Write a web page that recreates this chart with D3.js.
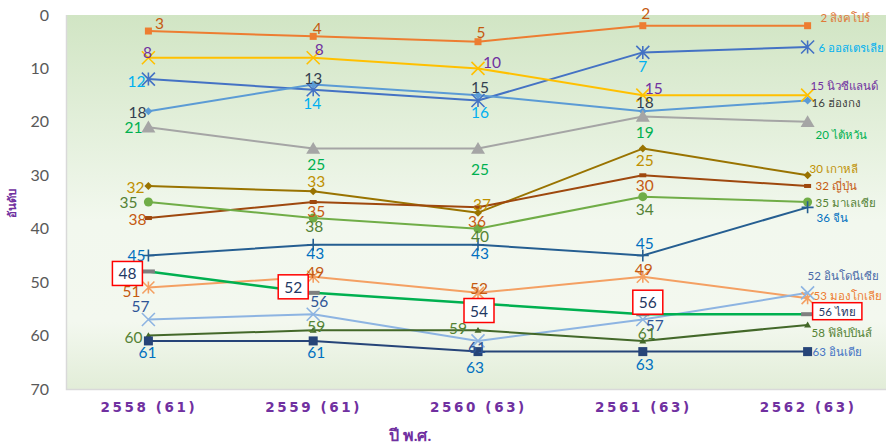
<!DOCTYPE html>
<html>
<head>
<meta charset="utf-8">
<script src="https://cdn.jsdelivr.net/npm/d3@7"></script>
<style>
  html, body { margin: 0; padding: 0; background: #fff; }
  svg { display: block; }
  text { font-family: Lato, "Noto Sans", "DejaVu Sans", sans-serif; }
</style>
</head>
<body>
<svg id="chart" width="886" height="444"></svg>
<script>
// ---- data: ranking per year (year label shows number of economies ranked) ----
const years = ["2558 (61)", "2559 (61)", "2560 (63)", "2561 (63)", "2562 (63)"];
const yTicks = [0, 10, 20, 30, 40, 50, 60, 70];

const singapore   = [3, 4, 5, 2, 2];
const australia   = [12, 14, 16, 7, 6];
const newZealand  = [8, 8, 10, 15, 15];
const hongKong    = [18, 13, 15, 18, 16];
const taiwan      = [21, 25, 25, 19, 20];
const korea       = [32, 33, 37, 25, 30];
const japan       = [38, 35, 36, 30, 32];
const malaysia    = [35, 38, 40, 34, 35];
const china       = [45, 43, 43, 45, 36];
const thailand    = [48, 52, 54, 56, 56];
const mongolia    = [51, 49, 52, 49, 53];
const indonesia   = [57, 56, 61, 57, 52];
const philippines = [60, 59, 59, 61, 58];
const india       = [61, 61, 63, 63, 63];

const series = [
  { key: "singapore",   name: "สิงคโปร์",    values: singapore },
  { key: "australia",   name: "ออสเตรเลีย",  values: australia },
  { key: "newZealand",  name: "นิวซีแลนด์",  values: newZealand },
  { key: "hongKong",    name: "ฮ่องกง",      values: hongKong },
  { key: "taiwan",      name: "ไต้หวัน",      values: taiwan },
  { key: "korea",       name: "เกาหลี",      values: korea },
  { key: "japan",       name: "ญี่ปุ่น",       values: japan },
  { key: "malaysia",    name: "มาเลเซีย",    values: malaysia },
  { key: "china",       name: "จีน",         values: china },
  { key: "mongolia",    name: "มองโกเลีย",   values: mongolia },
  { key: "indonesia",   name: "อินโดนีเซีย", values: indonesia },
  { key: "philippines", name: "ฟิลิปปินส์",  values: philippines },
  { key: "india",       name: "อินเดีย",     values: india },
  { key: "thailand",    name: "ไทย",         values: thailand }
];

// ---- styles ----
const style = {
  singapore:   { line: "#ed7d31", marker: "square",   size: 7,  label: "#c55a11", end: "#e0793a" },
  australia:   { line: "#4472c4", marker: "asterisk", size: 13, label: "#00b0f0", end: "#00b0f0" },
  newZealand:  { line: "#ffc000", marker: "x",        size: 13, label: "#7030a0", end: "#7030a0" },
  hongKong:    { line: "#5b9bd5", marker: "diamond",  size: 8,  label: "#333f50", end: "#404040" },
  taiwan:      { line: "#a5a5a5", marker: "triangle", size: 14, label: "#00b050", end: "#00b050" },
  korea:       { line: "#997300", marker: "diamond",  size: 8,  label: "#bf9000", end: "#bf9000" },
  japan:       { line: "#9e480e", marker: "dash",     size: 7,  label: "#c55a11", end: "#c55a11" },
  malaysia:    { line: "#70ad47", marker: "circle",   size: 9,  label: "#548235", end: "#548235" },
  china:       { line: "#255e91", marker: "plus",     size: 12, label: "#0070c0", end: "#0070c0" },
  mongolia:    { line: "#f4a063", marker: "asterisk", size: 12, label: "#c55a11", end: "#ed7d31" },
  indonesia:   { line: "#8db4e2", marker: "x",        size: 13, label: "#2f5597", end: "#4a69a8" },
  philippines: { line: "#436829", marker: "triangle", size: 7,  label: "#548235", end: "#548235" },
  india:       { line: "#264478", marker: "square",   size: 9,  label: "#0070c0", end: "#4472c4" },
  thailand:    { line: "#00b050", marker: "tdash",    size: 13, label: "#1f3864", end: "#1f3864", boxed: true, width: 2.5 }
};

// label placement relative to each point (last entry: end-of-line name label)
const nudge = {
  singapore:   [[11,-8],[4,-8],[3,-10],[3,-13],[13,-8]],
  australia:   [[-12,2],[-1,13],[2,12],[0,14],[11,0]],
  newZealand:  [[-1,-6],[6,-9],[14,-6],[11,-7],[3,-10]],
  hongKong:    [[-11,1],[0,-6],[2,-8],[2,-9],[4,2]],
  taiwan:      [[-15,0],[3,15],[2,20],[2,15],[8,13]],
  korea:       [[-13,1],[3,-10],[4,-9],[2,11],[2,-7]],
  japan:       [[-11,1],[3,9],[-1,14],[2,10],[8,0]],
  malaysia:    [[-20,0],[1,8],[2,7],[2,12],[8,0]],
  china:       [[-12,0],[2,8],[2,8],[2,-12],[9,10]],
  mongolia:    [[-17,4],[2,-5],[1,-5],[1,-8],[6,-3]],
  indonesia:   [[-8,-14],[6,-13],[-1,6],[12,5],[0,-17]],
  philippines: [[-15,1],[3,-4],[-20,-2],[4,-8],[4,8]],
  india:       [[-1,11],[3,11],[-3,15],[2,12],[5,0]],
  thailand:    [[-21,2],[-20,-6],[1,7],[5,-12],[11,-3]]
};

// ---- layout ----
const W = 886, H = 444;
const plot = { left: 66, right: 886, top: 15, bottom: 389 };

const svg = d3.select("#chart");

const x = d3.scalePoint().domain(years).range([plot.left, plot.right + 4]).padding(0.5);
const y = d3.scaleLinear().domain([0, 70]).range([plot.top, plot.bottom]);

// plot background
const defs = svg.append("defs");
const grad = defs.append("linearGradient").attr("id", "bg").attr("x1", 0).attr("y1", 0).attr("x2", 0).attr("y2", 1);
grad.append("stop").attr("offset", "0%").attr("stop-color", "#d1e5c4");
grad.append("stop").attr("offset", "55%").attr("stop-color", "#f2f8ee");
grad.append("stop").attr("offset", "82%").attr("stop-color", "#f3f8ef");
grad.append("stop").attr("offset", "100%").attr("stop-color", "#e2edd8");

svg.append("rect")
  .attr("x", plot.left).attr("y", plot.top)
  .attr("width", plot.right - plot.left).attr("height", plot.bottom - plot.top)
  .attr("fill", "url(#bg)");
svg.append("path")
  .attr("d", `M${plot.left + 0.5},${plot.top}V${plot.bottom + 0.5}H${plot.right}`)
  .attr("fill", "none").attr("stroke", "#d9d9d9").attr("stroke-width", 1.5);

// axes
const yAxis = svg.append("g")
  .attr("transform", `translate(${plot.left - 17},0)`)
  .call(d3.axisLeft(y).tickValues(yTicks).tickSize(0).tickPadding(0));
yAxis.select(".domain").remove();
yAxis.selectAll("text")
  .attr("fill", "#595959").style("font-size", "16px")
  .style("font-family", "Lato, 'Noto Sans', sans-serif");

const xAxis = svg.append("g")
  .attr("transform", `translate(0,${plot.bottom + 13})`)
  .call(d3.axisBottom(x).tickSize(0).tickPadding(0));
xAxis.select(".domain").remove();
xAxis.selectAll("text")
  .attr("fill", "#7030a0").attr("dy", "0.71em")
  .style("font-size", "13.5px").style("font-weight", "bold")
  .style("letter-spacing", "2.6px")
  .style("font-family", "'DejaVu Sans', sans-serif");

svg.append("text")
  .attr("x", 410).attr("y", 441)
  .attr("text-anchor", "middle")
  .attr("fill", "#7030a0").style("font-size", "16px").style("font-weight", "bold")
  .text("ปี พ.ศ.");

svg.append("text")
  .attr("transform", "translate(16,203) rotate(-90)")
  .attr("text-anchor", "middle")
  .attr("fill", "#7030a0").style("font-size", "11.5px").style("font-weight", "bold")
  .text("อันดับ");

// ---- lines ----
const line = d3.line().x((d, i) => x(years[i])).y(d => y(d));
const gLines = svg.append("g");
series.forEach(s => {
  const st = style[s.key];
  gLines.append("path")
    .datum(s.values)
    .attr("d", line)
    .attr("fill", "none")
    .attr("stroke", st.line)
    .attr("stroke-width", st.width || 2)
    .attr("stroke-linejoin", "round");
});

// ---- markers ----
function marker(g, type, cx, cy, size, color) {
  const h = size / 2;
  switch (type) {
    case "square":
      g.append("rect").attr("x", cx - h).attr("y", cy - h).attr("width", size).attr("height", size).attr("fill", color);
      break;
    case "diamond":
      g.append("path").attr("d", `M${cx},${cy - h}L${cx + h},${cy}L${cx},${cy + h}L${cx - h},${cy}Z`).attr("fill", color);
      break;
    case "circle":
      g.append("circle").attr("cx", cx).attr("cy", cy).attr("r", h).attr("fill", color);
      break;
    case "triangle":
      g.append("path").attr("d", `M${cx},${cy - h * 0.95}L${cx + h},${cy + h * 0.75}L${cx - h},${cy + h * 0.75}Z`).attr("fill", color);
      break;
    case "dash":
      g.append("rect").attr("x", cx - h).attr("y", cy - 2).attr("width", size).attr("height", 4).attr("fill", color);
      break;
    case "tdash":
      g.append("rect").attr("x", cx - h).attr("y", cy - 2).attr("width", size).attr("height", 4).attr("fill", "#7f7f7f");
      break;
    case "x":
      g.append("path").attr("d", `M${cx - h},${cy - h}L${cx + h},${cy + h}M${cx - h},${cy + h}L${cx + h},${cy - h}`)
        .attr("stroke", color).attr("stroke-width", 1.6).attr("fill", "none");
      break;
    case "asterisk":
      g.append("path").attr("d", `M${cx - h},${cy - h}L${cx + h},${cy + h}M${cx - h},${cy + h}L${cx + h},${cy - h}M${cx},${cy - h}V${cy + h}`)
        .attr("stroke", color).attr("stroke-width", 1.6).attr("fill", "none");
      break;
    case "plus":
      g.append("path").attr("d", `M${cx - h},${cy}H${cx + h}M${cx},${cy - h}V${cy + h}`)
        .attr("stroke", color).attr("stroke-width", 1.6).attr("fill", "none");
      break;
  }
}
const gMarks = svg.append("g");
series.forEach(s => {
  const st = style[s.key];
  s.values.forEach((v, i) => marker(gMarks, st.marker, x(years[i]), y(v), st.size, st.line));
});

// ---- data labels ----
const gLabels = svg.append("g");
function boxAround(t, padX, padY) {
  const b = t.node().getBBox();
  gLabels.insert("rect", () => t.node())
    .attr("x", b.x - padX).attr("y", b.y - padY)
    .attr("width", b.width + padX * 2).attr("height", b.height + padY * 2)
    .attr("fill", "#ffffff").attr("stroke", "#ff0000").attr("stroke-width", 1.5);
}
series.forEach(s => {
  const st = style[s.key];
  const nd = nudge[s.key];
  s.values.forEach((v, i) => {
    const px = x(years[i]), py = y(v);
    const last = i === s.values.length - 1;
    const t = gLabels.append("text")
      .attr("x", px + nd[i][0]).attr("y", py + nd[i][1])
      .attr("dominant-baseline", "central")
      .attr("text-anchor", last ? "start" : "middle")
      .attr("fill", last ? st.end : st.label)
      .style("font-size", last ? "11.5px" : "15.5px")
      .text(last ? `${v} ${s.name}` : v);
    if (st.boxed) last ? boxAround(t, 6, 2) : boxAround(t, 6, 3);
  });
});
</script>
</body>
</html>
